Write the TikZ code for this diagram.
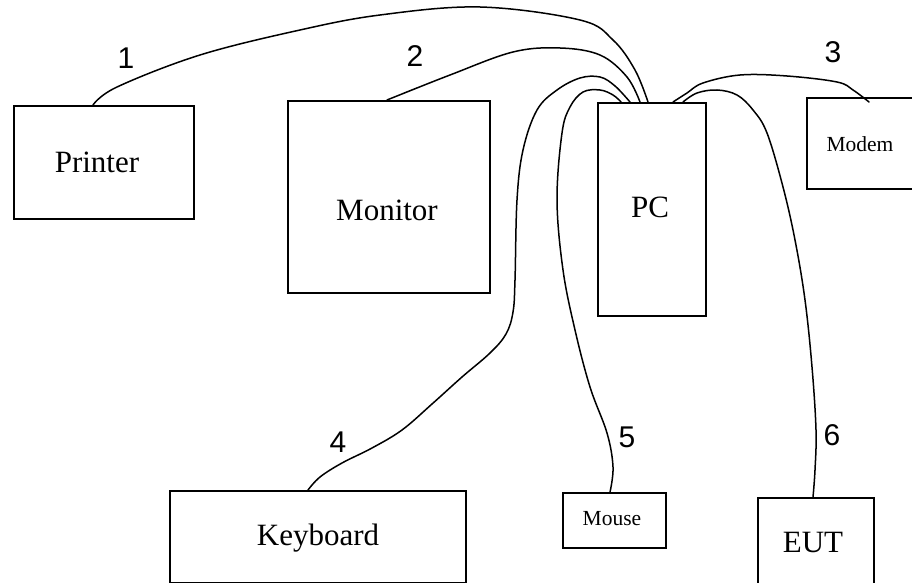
\documentclass[tikz,border=0pt]{standalone}
\usepackage{fontspec}
\setmainfont{Liberation Serif}
\newfontfamily\numfont{Liberation Sans}
\begin{document}
\begin{tikzpicture}[x=1pt,y=-1pt,
  box/.style={draw, line width=2pt, inner sep=0pt, anchor=north west},
  cable/.style={line width=1.5pt, line cap=round, line join=round},
  big/.style={font=\fontsize{31}{36}\selectfont, inner sep=0pt},
  small/.style={font=\fontsize{21.5}{25}\selectfont, inner sep=0pt},
  num/.style={font=\numfont\fontsize{30}{34}\selectfont, inner sep=0pt}]
\path[use as bounding box, fill=white] (0,0) rectangle (912,583);
\begin{scope}
\clip (0,0) rectangle (912,583);
% boxes
\node[box, minimum width=180pt, minimum height=113pt] (printer) at (13,105) {};
\node[box, minimum width=202pt, minimum height=192pt] (monitor) at (287,100) {};
\node[box, minimum width=108pt, minimum height=213pt] (pc) at (597,102) {};
\node[box, minimum width=120pt, minimum height=91pt] (modem) at (806,97) {};
\node[box, minimum width=296pt, minimum height=92pt] (keyboard) at (169,490) {};
\node[box, minimum width=103pt, minimum height=55pt] (mouse) at (562,492) {};
\node[box, minimum width=116pt, minimum height=100pt] (eut) at (757,497) {};
% texts
\node[big] (tprinter) at (97,162) {Printer};
\node[big] (tmonitor) at (387,210) {Monitor};
\node[big] (tpc) at (650,207) {PC};
\node[small] (tmodem) at (860,144) {Modem};
\node[big] (tkeyboard) at (318,538) {Keyboard};
\node[small] (tmouse) at (612,519) {Mouse};
\node[big] (teut) at (813,542) {EUT};
% numbers
\node[num] (n1) at (126,58) {1};
\node[num] (n2) at (415,56) {2};
\node[num] (n3) at (833,52) {3};
\node[num] (n4) at (338,442) {4};
\node[num] (n5) at (627,437) {5};
\node[num] (n6) at (832,435) {6};
% cable end points
\coordinate (c1a) at (93,105);   \coordinate (c1b) at (648,102);
\coordinate (c2a) at (387,100);  \coordinate (c2b) at (640,102);
\coordinate (c3a) at (673,102);  \coordinate (c3b) at (869,102);
\coordinate (c4a) at (308,490);  \coordinate (c4b) at (630,102);
\coordinate (c5a) at (610,492);  \coordinate (c5b) at (621,102);
\coordinate (c6a) at (683,102);  \coordinate (c6b) at (813,497);
% cables
\draw[cable] plot[smooth, tension=0.6] coordinates {(c1a) (117,87) (200,55) (300,30) (380,15) (480,7) (580,20) (613,40) (635,70) (c1b)};
\draw[cable] plot[smooth, tension=0.6] coordinates {(c2a) (450,75) (513,52) (560,48) (600,55) (627,77) (c2b)};
\draw[cable] plot[smooth, tension=0.6] coordinates {(c3a) (687,93) (703,83) (740,75) (787,76) (837,82) (853,90) (c3b)};
\draw[cable] plot[smooth, tension=0.6] coordinates {(c4a) (320,477) (342,463) (372,448) (402,430) (432,404) (462,377) (490,353) (506,334) (513,312) (515,280) (517,200) (523,150) (537,110) (557,90) (580,78) (600,77) (615,86) (c4b)};
\draw[cable] plot[smooth, tension=0.6] coordinates {(c5a) (613,467) (607,433) (590,387) (575,330) (563,270) (557,200) (562,133) (570,107) (583,92) (600,90) (613,95) (c5b)};
\draw[cable] plot[smooth, tension=0.6] coordinates {(c6a) (697,93) (717,90) (737,95) (753,110) (767,133) (783,187) (795,240) (805,300) (812,367) (816,430) (815,470) (c6b)};
\end{scope}
\end{tikzpicture}
\end{document}
